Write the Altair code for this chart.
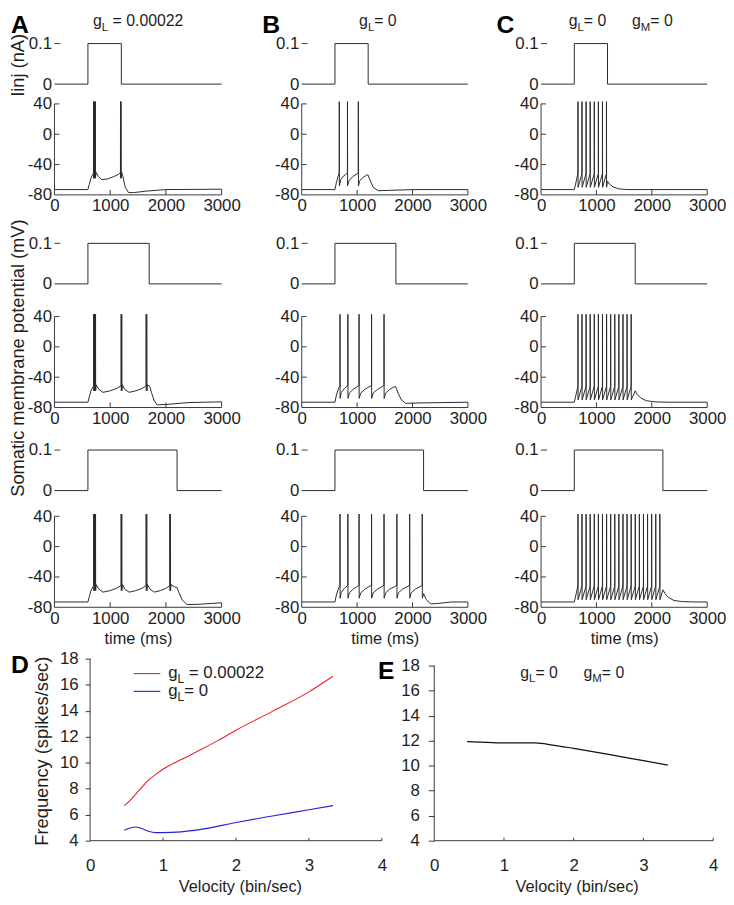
import altair as alt
import pandas as pd

# ======================= DATA =======================
STEP_T = [
    [0, 600, 600, 1200, 1200, 3000],
    [0, 600, 600, 1700, 1700, 3000],
    [0, 600, 600, 2200, 2200, 3000],
]
STEP_I = [0, 0, 0.1, 0.1, 0, 0]

SPIKE_PEAK = 43
A_THR, A_RESET = -52, -58      # g_L = 0.00022 (bursts)
B_THR, B_RESET = -51, -68      # g_L = 0
C_THR, C_RESET = -52, -70      # g_L = 0, g_M = 0

# ---- column A : g_L = 0.00022
A1_SPIKES = [700, 711, 722, 733, 1184, 1193]
A1_SUB_T = [0, 600, 625, 655, 685, 745, 790, 850, 950, 1060, 1150, 1178, 1205, 1230, 1270, 1330, 1420, 1650, 2000, 3000]
A1_SUB_V = [-73, -73, -66, -58, -53, -50, -56, -60, -59, -56, -53, -51, -50, -56, -70, -77, -77, -75, -73, -72.5]

A2_SPIKES = [703, 714, 725, 736, 1196, 1206, 1645, 1655]
A2_SUB_T = [0, 600, 625, 655, 688, 748, 795, 870, 1000, 1110, 1185, 1218, 1260, 1340, 1460, 1570, 1635, 1668, 1710, 1740, 1790, 1840, 2000, 2400, 3000]
A2_SUB_V = [-73, -73, -66, -58, -53, -50, -56, -60, -58, -55, -52, -50, -56, -60, -58, -55, -52, -50, -52, -60, -71, -76.5, -76, -73.5, -72.5]

A3_SPIKES = [703, 714, 725, 736, 1196, 1206, 1645, 1655, 2070, 2080]
A3_SUB_T = [0, 600, 625, 655, 688, 748, 795, 870, 1000, 1110, 1185, 1218, 1260, 1340, 1460, 1570, 1635, 1668, 1715, 1790, 1900, 2000, 2060, 2093, 2150, 2200, 2230, 2290, 2380, 2600, 3000]
A3_SUB_V = [-73, -73, -66, -58, -53, -50, -56, -60, -58, -55, -52, -50, -56, -60, -58, -55, -52, -50, -56, -60, -58, -55, -52, -50, -53, -54, -60, -70, -76.5, -76, -74]

# ---- column B : g_L = 0
B1_SPIKES = [677, 825, 1021]
B1_SUB_T = [0, 600, 625, 655, 705, 750, 795, 855, 920, 980, 1050, 1110, 1170, 1195, 1230, 1290, 1380, 1600, 2000, 3000]
B1_SUB_V = [-73, -73, -64, -56, -60, -55.5, -53, -61, -56, -53, -61, -57, -54, -53.5, -60, -70, -74.5, -74, -73, -73]

B2_SPIKES = [690, 832, 1034, 1260, 1485]
B2_SUB_T = [0, 600, 625, 660, 715, 770, 860, 930, 990, 1065, 1140, 1210, 1290, 1370, 1440, 1515, 1590, 1660, 1695, 1740, 1800, 1880, 2100, 3000]
B2_SUB_V = [-73, -73, -64, -56, -60, -55, -61, -56, -53, -61, -56, -53, -61, -56, -53, -61, -56, -53, -52.5, -61, -70, -74.5, -74, -73]

B3_SPIKES = [690, 832, 1034, 1260, 1485, 1717, 1948, 2175]
B3_SUB_T = [0, 600, 625, 660, 715, 770, 860, 930, 990, 1065, 1140, 1210, 1290, 1370, 1440, 1515, 1590, 1670, 1745, 1820, 1900, 1975, 2050, 2130, 2200, 2250, 2330, 2450, 2700, 3000]
B3_SUB_V = [-73, -73, -64, -56, -60, -55, -61, -56, -53, -61, -56, -53, -61, -56, -53, -61, -56, -53, -61, -56, -53, -61, -56, -53, -62, -70, -75.5, -75, -73, -73]

# ---- column C : g_L = 0, g_M = 0
C1_SPIKES = [665, 738, 812, 886, 960, 1034, 1108, 1180]
C1_SUB_T = [0, 600, 635, 1200, 1240, 1300, 1400, 1550, 3000]
C1_SUB_V = [-73, -73, -62, -62, -66, -69.5, -72, -73, -73]

C2_SPIKES = [665, 738, 812, 886, 960, 1034, 1108, 1182, 1256, 1330, 1404, 1478, 1552, 1626]
C2_SUB_T = [0, 600, 635, 1700, 1740, 1800, 1900, 2050, 2300, 3000]
C2_SUB_V = [-73, -73, -62, -58, -63, -67.5, -71, -72.5, -73, -73]

C3_SPIKES = [665, 738, 812, 886, 960, 1034, 1108, 1182, 1256, 1330, 1404, 1478, 1552, 1626,
             1700, 1774, 1848, 1922, 1996, 2070, 2144]
C3_SUB_T = [0, 600, 635, 2200, 2240, 2300, 2400, 2550, 2800, 3000]
C3_SUB_V = [-73, -73, -62, -57, -62, -67, -71, -72.5, -73, -73]

# ---- panel D / E : frequency vs velocity
RED_VEL = [0.47, 0.55, 0.63, 0.7, 0.79, 0.9, 1.0, 1.25, 1.5, 1.75, 2.0, 2.5, 3.0, 3.33]
RED_FREQ = [6.7, 7.1, 7.6, 8.05, 8.6, 9.1, 9.5, 10.25, 10.95, 11.7, 12.5, 13.95, 15.45, 16.65]
BLUE_VEL = [0.47, 0.55, 0.62, 0.7, 0.8, 0.9, 1.0, 1.25, 1.5, 2.0, 2.5, 3.0, 3.33]
BLUE_FREQ = [4.8, 4.98, 5.05, 4.95, 4.72, 4.62, 4.62, 4.68, 4.85, 5.4, 5.9, 6.38, 6.7]
E_VEL = [0.47, 0.75, 1.0, 1.2, 1.45, 1.7, 2.0, 2.5, 3.0, 3.35]
E_FREQ = [11.92, 11.87, 11.82, 11.83, 11.82, 11.65, 11.38, 10.9, 10.4, 10.05]

TIME_TICKS = [0, 1000, 2000, 3000]
VOLT_TICKS = [-80, -40, 0, 40]
CUR_TICKS = [0, 0.1]
VEL_TICKS = [0, 1, 2, 3, 4]
FREQ_TICKS = [4, 6, 8, 10, 12, 14, 16, 18]

PANEL_LETTERS = ["A", "B", "C", "D", "E"]
SEG_A = [("g", "n"), ("L", "s"), (" ", "n"), ("= 0.00022", "n")]
SEG_B = [("g", "n"), ("L", "s"), ("= 0", "n")]
SEG_C = [("g", "n"), ("L", "s"), ("= 0", "n"), (26, "gap"), ("g", "n"), ("M", "s"), ("= 0", "n")]
COL_TITLES = [SEG_A, SEG_B, SEG_C]

# ======================= STYLE / LAYOUT =======================
FONT = "Liberation Sans"
INK = "#1e1e1e"
LINE = "#2a2a2a"
AXC = "#3a3a3a"
RED = "#e8202a"
BLUE = "#2424d0"

SR, SC = 10, 53
COL_LEFT = [52, 302, 544]
COL_END = [221, 470, 712]
CUR_TOP = [39, 241, 450]
CUR_BOT = [80, 282, 491]
V40 = [100, 315, 517]
V80 = [192, 407, 609]
D_ZERO, D_FOUR = 88, 383
E_ZERO, E_FOUR = 436, 718
D_Y18, E_Y18, DE_Y4 = 661, 668, 845
YTITLE_X = -31

cell_w = [COL_LEFT[1] - SC - COL_LEFT[0], COL_LEFT[2] - SC - COL_LEFT[1], COL_END[2] - COL_LEFT[2]]
px_ms = [(COL_END[c] - COL_LEFT[c]) / 3000 for c in range(3)]
x_max = [cell_w[c] / px_ms[c] for c in range(3)]

cur_top = [CUR_TOP[0], V80[0] + SR, V80[1] + SR]
cur_h = [CUR_BOT[k] - cur_top[k] for k in range(3)]
cur_max = [cur_h[k] / ((CUR_BOT[k] - CUR_TOP[k]) / 0.1) for k in range(3)]
volt_top = [CUR_BOT[k] + SR for k in range(3)]
volt_h = [V80[k] - volt_top[k] for k in range(3)]
volt_max = [-80 + volt_h[k] / ((V80[k] - V40[k]) / 120) for k in range(3)]
de_top = V80[2] + SR
de_h = DE_Y4 - de_top
d_ymax = 4 + de_h / ((DE_Y4 - D_Y18) / 14)
e_ymax = 4 + de_h / ((DE_Y4 - E_Y18) / 14)
D_RANGE = [D_ZERO - COL_LEFT[0], D_FOUR - COL_LEFT[0]]
E_RANGE = [E_ZERO - COL_LEFT[1], E_FOUR - COL_LEFT[1]]

CHAR_W = {"g": .556, "L": .556, "M": .833, " ": .278, "=": .584, ".": .278}


def seg_width(s, size):
    return size * sum(CHAR_W.get(ch, .556) for ch in s)


def text_layer(text, x, y, size, weight="normal", color=INK):
    return alt.Chart(pd.DataFrame({"s": [text]})).mark_text(
        align="left", baseline="alphabetic", font=FONT, fontSize=size,
        fontWeight=weight, color=color,
    ).encode(text="s:N", x=alt.value(x), y=alt.value(y))


def seg_label(segs, x, y, size, sub_size, sub_dy):
    layers = []
    for text, kind in segs:
        if kind == "gap":
            x += text
            continue
        sz = sub_size if kind == "s" else size
        yy = y + (sub_dy if kind == "s" else 0)
        if text.strip():
            layers.append(text_layer(text, x, yy, sz))
        x += seg_width(text, sz)
    return layers


def trace_df(sub_t, sub_v, spikes, thr, reset):
    pts = list(zip(sub_t, sub_v))
    for ts in spikes:
        pts += [(ts, thr), (ts + 1, SPIKE_PEAK), (ts + 3, reset)]
    pts.sort(key=lambda p: p[0])
    return pd.DataFrame({"t": [p[0] for p in pts], "v": [p[1] for p in pts],
                         "i": list(range(len(pts)))})


TRACES = {
    (0, 0): (A1_SUB_T, A1_SUB_V, A1_SPIKES, A_THR, A_RESET),
    (1, 0): (A2_SUB_T, A2_SUB_V, A2_SPIKES, A_THR, A_RESET),
    (2, 0): (A3_SUB_T, A3_SUB_V, A3_SPIKES, A_THR, A_RESET),
    (0, 1): (B1_SUB_T, B1_SUB_V, B1_SPIKES, B_THR, B_RESET),
    (1, 1): (B2_SUB_T, B2_SUB_V, B2_SPIKES, B_THR, B_RESET),
    (2, 1): (B3_SUB_T, B3_SUB_V, B3_SPIKES, B_THR, B_RESET),
    (0, 2): (C1_SUB_T, C1_SUB_V, C1_SPIKES, C_THR, C_RESET),
    (1, 2): (C2_SUB_T, C2_SUB_V, C2_SPIKES, C_THR, C_RESET),
    (2, 2): (C3_SUB_T, C3_SUB_V, C3_SPIKES, C_THR, C_RESET),
}

LABEL_EXPR = "'' + datum.value"
LETTER_X = [-44, -40, -45]
TITLE_X = [39, 58, 28]


def current_panel(row, col):
    df = pd.DataFrame({"t": STEP_T[row], "cur": STEP_I, "o": list(range(len(STEP_I)))})
    xs = alt.Scale(domain=[0, x_max[col]], nice=False, zero=False)
    ys = alt.Scale(domain=[0, cur_max[row]], nice=False, zero=False)
    yopt = dict(values=CUR_TICKS, labelExpr=LABEL_EXPR, domain=False, ticks=False,
                tickSize=0, labelPadding=3, grid=False)
    if row == 0 and col == 0:
        yopt.update(title="Iinj (nA)", titleX=YTITLE_X, titleY=60.5 - cur_top[0], titleAngle=270,
                    titleBaseline="alphabetic", titleAlign="center", titleFontSize=18.5)
    else:
        yopt["title"] = None
    yax = alt.Axis(**yopt)
    line = alt.Chart(df).mark_line(color=LINE, strokeWidth=1).encode(
        x=alt.X("t:Q", scale=xs, axis=None),
        y=alt.Y("cur:Q", scale=ys, axis=yax),
        order=alt.Order("o:Q"),
    )
    tick = alt.Chart(pd.DataFrame({"cur": [0.1]})).mark_rule(color=AXC, strokeWidth=1).encode(
        x=alt.value(0), x2=alt.value(6), y=alt.Y("cur:Q", axis=yax))
    layers = [line, tick]
    if row == 0:
        layers.append(text_layer(PANEL_LETTERS[col], LETTER_X[col], -11, 25, weight="bold", color="#000"))
        layers += seg_label(COL_TITLES[col], TITLE_X[col], -18, 16, 11.5, 5)
    return alt.layer(*layers).properties(width=cell_w[col], height=cur_h[row])


def voltage_panel(row, col):
    df = trace_df(*TRACES[(row, col)])
    xs = alt.Scale(domain=[0, x_max[col]], nice=False, zero=False)
    ys = alt.Scale(domain=[-80, volt_max[row]], nice=False, zero=False)
    xopt = dict(values=TIME_TICKS, labelExpr=LABEL_EXPR, domain=False, ticks=False, tickSize=0,
                labelPadding=3, labelFlush=False, grid=False)
    if row == 2:
        xopt.update(title="time (ms)", titleX=(COL_END[col] - COL_LEFT[col]) / 2, titleY=37,
                    titleBaseline="alphabetic", titleAlign="center", titleFontSize=16.5)
    else:
        xopt["title"] = None
    yopt = dict(values=VOLT_TICKS, labelExpr=LABEL_EXPR, domain=False, ticks=False, tickSize=0,
                labelPadding=3, grid=False)
    if row == 1 and col == 0:
        yopt.update(title="Somatic membrane potential (mV)", titleX=YTITLE_X,
                    titleY=356.5 - volt_top[1], titleAngle=270, titleBaseline="alphabetic",
                    titleAlign="center", titleFontSize=18.5)
    else:
        yopt["title"] = None
    xax, yax = alt.Axis(**xopt), alt.Axis(**yopt)
    line = alt.Chart(df).mark_line(color=LINE, strokeWidth=1).encode(
        x=alt.X("t:Q", scale=xs, axis=xax),
        y=alt.Y("v:Q", scale=ys, axis=yax),
        order=alt.Order("i:Q"),
    )
    last_v = float(df["v"].iloc[-1])
    frame = alt.Chart(pd.DataFrame({
        "t": [0, 0, 3000], "t2": [0, 3000, 3000],
        "v": [-80, -80, -80], "v2": [40, -80, last_v]})).mark_rule(color=AXC, strokeWidth=1).encode(
        x=alt.X("t:Q", axis=xax), x2="t2:Q", y=alt.Y("v:Q", axis=yax), y2="v2:Q")
    yt = alt.Chart(pd.DataFrame({"v": [-40, 0, 40]})).mark_rule(color=AXC, strokeWidth=1).encode(
        x=alt.value(0), x2=alt.value(5), y=alt.Y("v:Q", axis=yax))
    xt = alt.Chart(pd.DataFrame({"t": [1000, 2000]})).mark_rule(color=AXC, strokeWidth=1).encode(
        x=alt.X("t:Q", axis=xax), y=alt.value(volt_h[row]), y2=alt.value(volt_h[row] - 5))
    return alt.layer(line, frame, yt, xt).properties(width=cell_w[col], height=volt_h[row])


def rate_axes(x_title_x, y_offset, y_title, tick_size, label_pad):
    xax = alt.Axis(values=VEL_TICKS, labelExpr=LABEL_EXPR, domain=False, ticks=False, tickSize=0,
                   labelPadding=17, labelFlush=False, grid=False, title="Velocity (bin/sec)",
                   titleX=x_title_x, titleY=51, titleBaseline="alphabetic", titleAlign="center",
                   titleFontSize=16.5)
    yopt = dict(values=FREQ_TICKS, labelExpr=LABEL_EXPR, domain=False, ticks=True,
                tickSize=tick_size, tickColor=AXC, labelPadding=label_pad, offset=y_offset,
                grid=False)
    if y_title:
        yopt.update(title=y_title, titleX=-43, titleY=754 - de_top, titleAngle=270,
                    titleBaseline="alphabetic", titleAlign="center", titleFontSize=18.5)
    else:
        yopt["title"] = None
    return xax, alt.Axis(**yopt)


def frame_layers(xax, yax):
    frame = alt.Chart(pd.DataFrame({"vel": [0, 0], "vel2": [0, 4], "f": [4, 4], "f2": [18, 4]})).mark_rule(
        color=AXC, strokeWidth=1).encode(
        x=alt.X("vel:Q", axis=xax), x2="vel2:Q", y=alt.Y("f:Q", axis=yax), y2="f2:Q")
    xt = alt.Chart(pd.DataFrame({"vel": [1, 2, 3, 4]})).mark_rule(color=AXC, strokeWidth=1).encode(
        x=alt.X("vel:Q", axis=xax), y=alt.value(de_h), y2=alt.value(de_h - 3))
    return [frame, xt]


def d_panel():
    xs = alt.Scale(domain=[0, 4], range=D_RANGE, nice=False, zero=False)
    ys = alt.Scale(domain=[4, d_ymax], nice=False, zero=False)
    xax, yax = rate_axes(239.5 - COL_LEFT[0], -D_RANGE[0], "Frequency (spikes/sec)", 5, 7)
    red = alt.Chart(pd.DataFrame({"vel": RED_VEL, "f": RED_FREQ})).mark_line(
        color=RED, strokeWidth=1.1, interpolate="monotone").encode(
        x=alt.X("vel:Q", scale=xs, axis=xax), y=alt.Y("f:Q", scale=ys, axis=yax))
    blue = alt.Chart(pd.DataFrame({"vel": BLUE_VEL, "f": BLUE_FREQ})).mark_line(
        color=BLUE, strokeWidth=1.1, interpolate="monotone").encode(
        x=alt.X("vel:Q", axis=xax), y=alt.Y("f:Q", axis=yax))
    one = pd.DataFrame({"k": [0]})
    leg_r = alt.Chart(one).mark_rule(color=RED, strokeWidth=1.1).encode(
        x=alt.value(80), x2=alt.value(107), y=alt.value(57))
    leg_b = alt.Chart(one).mark_rule(color=BLUE, strokeWidth=1.1).encode(
        x=alt.value(80), x2=alt.value(107), y=alt.value(75))
    layers = [red, blue] + frame_layers(xax, yax) + [leg_r, leg_b]
    layers += seg_label(SEG_A, 115, 62, 17, 12, 5)
    layers += seg_label(SEG_B, 115, 80, 17, 12, 5)
    layers.append(text_layer(PANEL_LETTERS[3], -44, 56, 25, weight="bold", color="#000"))
    return alt.layer(*layers).properties(width=cell_w[0], height=de_h)


def e_panel():
    xs = alt.Scale(domain=[0, 4], range=E_RANGE, nice=False, zero=False)
    ys = alt.Scale(domain=[4, e_ymax], nice=False, zero=False)
    xax, yax = rate_axes(580 - COL_LEFT[1], -E_RANGE[0], None, 6, 9)
    line = alt.Chart(pd.DataFrame({"vel": E_VEL, "f": E_FREQ})).mark_line(
        color="#111111", strokeWidth=1.2, interpolate="monotone").encode(
        x=alt.X("vel:Q", scale=xs, axis=xax), y=alt.Y("f:Q", scale=ys, axis=yax))
    layers = [line] + frame_layers(xax, yax)
    layers += seg_label(SEG_C, 523 - COL_LEFT[1], 61, 16, 11.5, 5)
    layers.append(text_layer(PANEL_LETTERS[4], 379 - COL_LEFT[1], 63, 25, weight="bold", color="#000"))
    return alt.layer(*layers).properties(width=cell_w[1], height=de_h)


cells = []
for r in range(3):
    cells += [current_panel(r, c) for c in range(3)]
    cells += [voltage_panel(r, c) for c in range(3)]
cells += [d_panel(), e_panel()]

chart = alt.concat(
    *cells, columns=3, spacing={"row": SR, "column": SC}, bounds="flush", align="each",
).properties(padding=0).configure_view(strokeWidth=0).configure_axis(
    labelFont=FONT, titleFont=FONT, labelFontSize=17, labelColor=INK, titleColor=INK,
    titleFontWeight="normal", labelFontWeight="normal",
)

chart.save("out.html", embed_options={"renderer": "svg", "actions": False})
